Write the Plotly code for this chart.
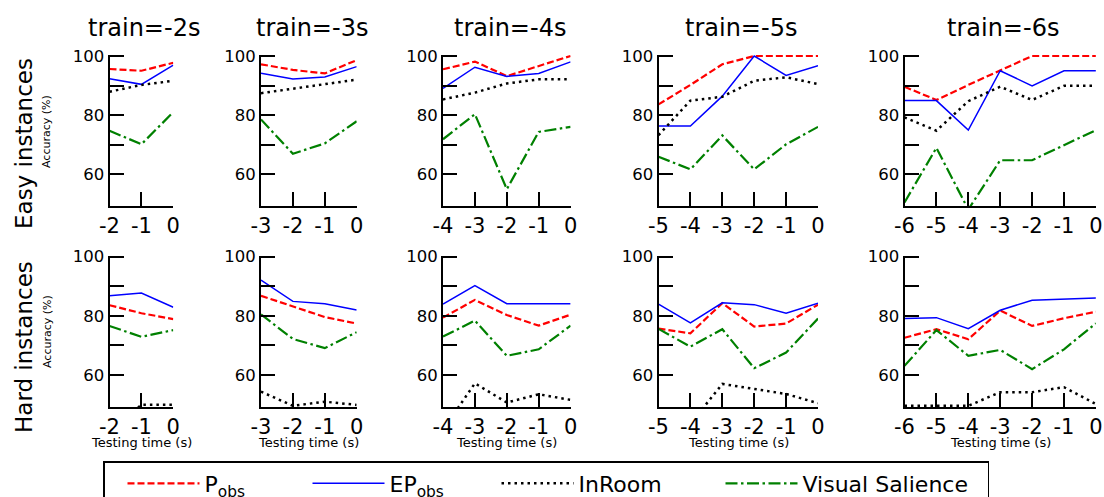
import plotly.graph_objects as go

# ---------------- data ----------------
train_times = [-2, -3, -4, -5, -6]
panel_titles = ["train=-2s", "train=-3s", "train=-4s", "train=-5s", "train=-6s"]
row_labels = ["Easy instances", "Hard instances"]
series_names = ["P<sub>obs</sub>", "EP<sub>obs</sub>", "InRoom", "Visual Salience"]
y_tickvals = [60, 70, 80, 90, 100]
y_ticktext = ["60", "", "80", "", "100"]

easy_pobs = [
    [95.6, 95.0, 97.7],
    [97.2, 95.3, 94.1, 98.6],
    [95.5, 98.1, 93.2, 96.5, 100.0],
    [83.6, 90.2, 97.2, 100.0, 100.0, 100.0],
    [89.6, 85.1, 90.2, 95.0, 100.0, 100.0, 100.0],
]
easy_epobs = [
    [92.3, 90.4, 96.9],
    [94.2, 92.2, 92.9, 96.4],
    [89.0, 96.2, 93.1, 94.1, 98.0],
    [76.3, 76.3, 86.4, 100.0, 93.4, 96.7],
    [84.9, 84.9, 74.9, 95.0, 89.9, 95.0, 95.0],
]
easy_inroom = [
    [87.9, 90.2, 91.6],
    [87.4, 88.9, 90.5, 92.0],
    [85.3, 87.6, 90.7, 92.1, 92.1],
    [73.2, 84.9, 86.2, 91.6, 92.8, 90.5],
    [79.2, 74.7, 84.7, 89.6, 85.1, 89.9, 89.9],
]
easy_vs = [
    [74.7, 70.1, 81.0],
    [78.5, 66.9, 70.4, 77.9],
    [71.8, 80.3, 54.9, 74.3, 76.0],
    [65.9, 61.6, 73.1, 61.6, 70.1, 76.0],
    [50.4, 68.9, 48.0, 64.7, 64.7, 69.8, 74.9],
]

hard_pobs = [
    [83.6, 80.9, 78.9],
    [86.8, 83.1, 79.6, 77.4],
    [79.4, 85.4, 80.3, 76.7, 80.4],
    [75.7, 74.1, 84.3, 76.4, 77.4, 83.8],
    [72.6, 75.5, 72.1, 81.8, 76.6, 79.2, 81.4],
]
hard_epobs = [
    [86.8, 87.7, 82.9],
    [92.1, 84.9, 84.1, 82.0],
    [84.0, 90.2, 84.1, 84.1, 84.1],
    [84.0, 77.6, 84.4, 83.8, 80.9, 84.3],
    [79.1, 79.4, 75.7, 81.9, 85.3, 85.6, 86.0],
]
hard_inroom = [
    [40.0, 50.0, 50.0],
    [54.4, 49.6, 51.0, 49.9],
    [41.5, 57.2, 50.7, 53.5, 51.6],
    [40.0, 43.5, 57.0, 55.2, 53.6, 50.5],
    [49.6, 49.6, 49.6, 54.2, 54.2, 55.9, 50.2],
]
hard_vs = [
    [76.6, 72.9, 75.2],
    [80.5, 72.2, 69.1, 74.5],
    [73.0, 78.4, 66.5, 68.7, 76.7],
    [75.6, 69.6, 75.5, 62.3, 67.6, 79.1],
    [63.1, 75.2, 66.5, 68.5, 62.0, 68.7, 77.5],
]

# ---------------- styling / layout ----------------
W, H = 1104, 497
FONT = "DejaVu Sans"
styles = [
    dict(color="#ff0000", width=2.2, dash="7px,3px"),
    dict(color="#0000ff", width=1.5, dash="solid"),
    dict(color="#000000", width=2.5, dash="2.5px,4px"),
    dict(color="#008000", width=2.2, dash="12px,3.5px,2.5px,3.5px"),
]
legend_widths = [80, 84, 119, 180]
panel_left_px = [109.5, 261, 443, 658.5, 904.5]
unit_px = 31.9
px_per_pct = 2.95
row_y_px = [(56, 206), (256.7, 407)]  # (y=100 pixel, bottom pixel)
y_lo, y_hi = 49.2, 100.4

fig = go.Figure()
layout = dict(
    width=W, height=H,
    margin=dict(l=0, r=0, t=0, b=0, autoexpand=False),
    paper_bgcolor="white", plot_bgcolor="white",
    font=dict(family=FONT, color="black"),
    showlegend=True,
    legend=dict(
        orientation="h", x=103 / W, y=1 - 461 / H, xanchor="left", yanchor="top",
        bordercolor="black", borderwidth=1.5, bgcolor="white",
        font=dict(size=22, family=FONT), itemwidth=72, indentation=18,
    ),
)

rows = [
    [easy_pobs, easy_epobs, easy_inroom, easy_vs],
    [hard_pobs, hard_epobs, hard_inroom, hard_vs],
]

annotations = []
k = 0
for r, row in enumerate(rows):
    top100, bot = row_y_px[r]
    top = top100 - (y_hi - 100) * px_per_pct
    for c, t0 in enumerate(train_times):
        k += 1
        xs = list(range(t0, 1))
        xname = "x" if k == 1 else f"x{k}"
        yname = "y" if k == 1 else f"y{k}"
        left = panel_left_px[c]
        right = left + (-t0) * unit_px
        for s, series in enumerate(row):
            fig.add_trace(go.Scatter(
                x=xs, y=series[c], mode="lines", name=series_names[s],
                line=styles[s], xaxis=xname, yaxis=yname,
                showlegend=(k == 1), legendwidth=legend_widths[s],
            ))
        common = dict(showline=True, linecolor="black", linewidth=2,
                      ticks="inside", tickcolor="black", tickwidth=2, ticklen=14,
                      showgrid=False, zeroline=False, fixedrange=True)
        layout["xaxis" if k == 1 else f"xaxis{k}"] = dict(
            domain=[left / W, right / W], range=[t0, 0],
            anchor=yname, tickvals=xs, ticktext=[str(v) for v in xs],
            tickfont=dict(size=21, family=FONT), **common)
        layout["yaxis" if k == 1 else f"yaxis{k}"] = dict(
            domain=[1 - bot / H, 1 - top / H], range=[y_lo, y_hi],
            anchor=xname, tickvals=y_tickvals, ticktext=y_ticktext,
            tickfont=dict(size=16.5, family=FONT), **common)
        cx = (left + right) / 2
        if r == 0:
            annotations.append(dict(
                text=panel_titles[c], x=(cx + 3) / W, y=1 - 28 / H,
                xref="paper", yref="paper", showarrow=False,
                xanchor="center", yanchor="middle",
                font=dict(size=24, family=FONT)))
        else:
            annotations.append(dict(
                text="Testing time (s)", x=cx / W, y=1 - 442 / H,
                xref="paper", yref="paper", showarrow=False,
                xanchor="center", yanchor="middle",
                font=dict(size=13, family=FONT)))

for r, (lab_cy, acc_cy) in enumerate([(144, 132), (347, 332)]):
    annotations.append(dict(
        text=row_labels[r], x=24 / W, y=1 - lab_cy / H, xref="paper", yref="paper",
        showarrow=False, textangle=-90, xanchor="center", yanchor="middle",
        font=dict(size=23, family=FONT)))
    annotations.append(dict(
        text="Accuracy (%)", x=47 / W, y=1 - acc_cy / H, xref="paper", yref="paper",
        showarrow=False, textangle=-90, xanchor="center", yanchor="middle",
        font=dict(size=11, family=FONT)))

layout["annotations"] = annotations
fig.update_layout(**layout)
fig.write_html("out.html", config={"displayModeBar": False},
               post_script="document.body.style.margin='0px';")
